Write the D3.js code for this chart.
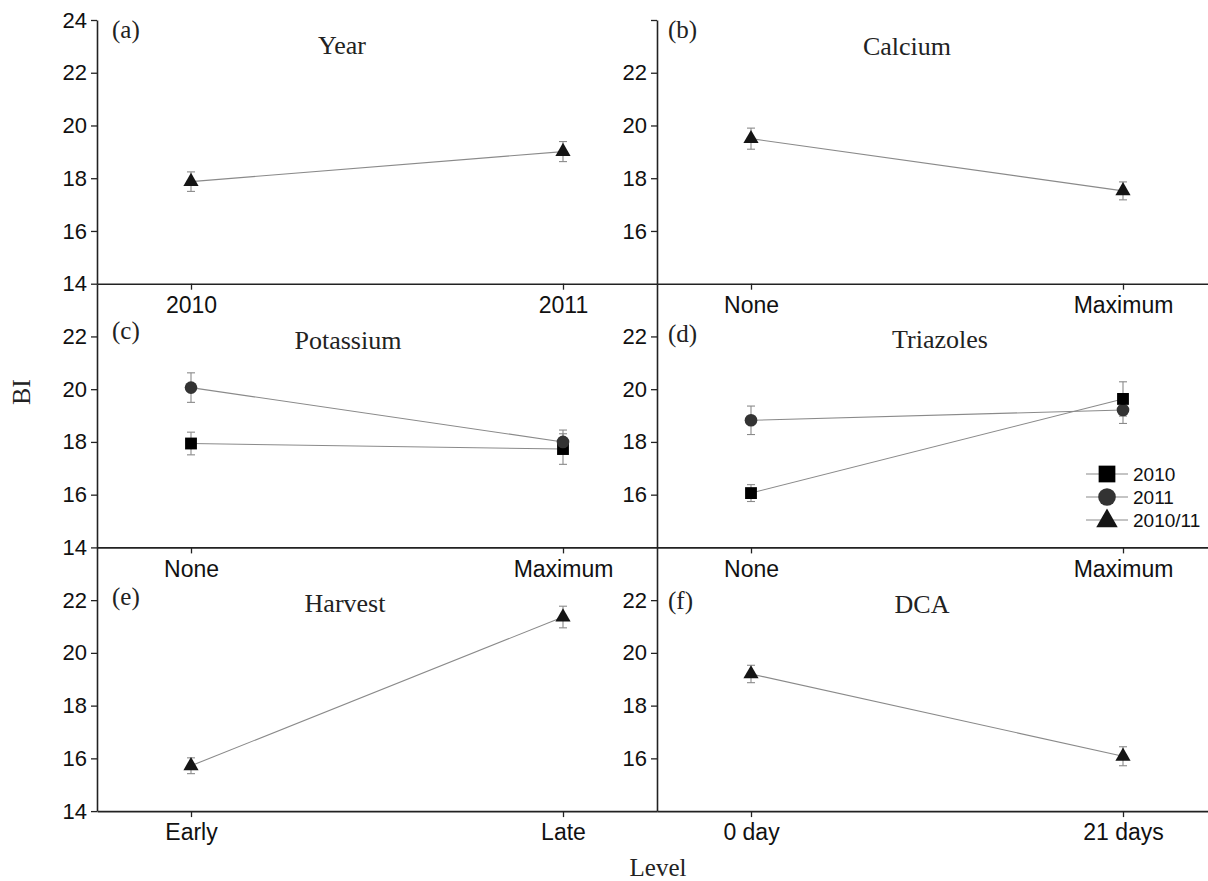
<!DOCTYPE html>
<html><head><meta charset="utf-8">
<script src="https://cdn.jsdelivr.net/npm/d3@7"></script>
<style>body{margin:0;background:#fff}</style>
</head><body><svg id="chart" width="1208" height="881"></svg>
<script>
// ---------- data ----------
const panelTitles = ["Year", "Calcium", "Potassium", "Triazoles", "Harvest", "DCA"];
const panelTags = ["(a)", "(b)", "(c)", "(d)", "(e)", "(f)"];
const levelLabels = [
  ["2010", "2011"],
  ["None", "Maximum"],
  ["None", "Maximum"],
  ["None", "Maximum"],
  ["Early", "Late"],
  ["0 day", "21 days"]
];
const seriesNames = ["2010", "2011", "2010/11"];

const yearMean = [17.87, 19.01],        yearErr = [0.37, 0.38];
const calciumMean = [19.50, 17.52],     calciumErr = [0.40, 0.34];
const potassium2010 = [17.94, 17.73],   potassium2010Err = [0.43, 0.58];
const potassium2011 = [20.06, 18.00],   potassium2011Err = [0.56, 0.45];
const triazoles2010 = [16.06, 19.63],   triazoles2010Err = [0.32, 0.65];
const triazoles2011 = [18.82, 19.21],   triazoles2011Err = [0.54, 0.51];
const harvestMean = [15.72, 21.36],     harvestErr = [0.30, 0.41];
const dcaMean = [19.20, 16.08],         dcaErr = [0.33, 0.36];

const yTicksLeftTop = [14, 16, 18, 20, 22, 24];
const yTicksLeft = [14, 16, 18, 20, 22];
const yTicksRightTop = [16, 18, 20, 22, 24];
const yTicksRight = [16, 18, 20, 22];

// panel -> series list (built from the arrays above)
const panelSeries = [
  [{ s: "2010/11", m: yearMean, e: yearErr }],
  [{ s: "2010/11", m: calciumMean, e: calciumErr }],
  [{ s: "2010", m: potassium2010, e: potassium2010Err }, { s: "2011", m: potassium2011, e: potassium2011Err }],
  [{ s: "2011", m: triazoles2011, e: triazoles2011Err }, { s: "2010", m: triazoles2010, e: triazoles2010Err }],
  [{ s: "2010/11", m: harvestMean, e: harvestErr }],
  [{ s: "2010/11", m: dcaMean, e: dcaErr }]
];

// ---------- layout ----------
const W = 1208, H = 881;
const colLeft = [97, 657], colWidth = 560;
const rowTop = 20, rowH = 263.7;
const sansFont = "'Liberation Sans', Arial, sans-serif";
const serifFont = "'Liberation Serif', 'Times New Roman', serif";
const titlePos = [[342, 54], [907, 55], [348, 349], [940, 348], [345, 612], [922, 613]];
const tagPos = [[112, 38], [668, 38], [112, 339], [668, 342], [112, 605], [668, 609]];

const symbolOf = { "2010": d3.symbolSquare, "2011": d3.symbolCircle, "2010/11": d3.symbolTriangle };
const sizeOf = { "2010": 140, "2011": 125, "2010/11": 100 };
const legendSizeOf = { "2010": 280, "2011": 245, "2010/11": 200 };
const fillOf = { "2010": "#000", "2011": "#333", "2010/11": "#151515" };

const svg = d3.select("#chart");
svg.append("rect").attr("width", W).attr("height", H).attr("fill", "#fff");

function styleAxis(g) {
  g.selectAll(".domain").attr("stroke", "#222").attr("stroke-width", 1.6);
  g.selectAll(".tick line").attr("stroke", "#222").attr("stroke-width", 1.3);
  g.selectAll(".tick text").attr("fill", "#111").attr("font-family", sansFont);
}

const scales = [];
panelTitles.forEach((title, i) => {
  const col = i % 2, row = Math.floor(i / 2);
  const x = d3.scalePoint().domain(levelLabels[i])
    .range([colLeft[col], colLeft[col] + colWidth]).padding(0.2527);
  const y = d3.scaleLinear().domain([14, 24])
    .range([rowTop + (row + 1) * rowH, rowTop + row * rowH]);
  scales.push({ x, y });

  // x axis
  const gx = svg.append("g").attr("transform", `translate(0,${y(14)})`)
    .call(d3.axisBottom(x).tickSize(6).tickSizeOuter(0).tickPadding(7));
  gx.selectAll(".tick text").attr("font-size", 23);
  styleAxis(gx);

  // y axis
  let tv, fmt = d => d;
  if (col === 0) tv = row === 0 ? yTicksLeftTop : yTicksLeft;
  else { tv = row === 0 ? yTicksRightTop : yTicksRight; fmt = d => (d === 24 ? "" : d); }
  const gy = svg.append("g").attr("transform", `translate(${colLeft[col]},0)`)
    .call(d3.axisLeft(y).tickValues(tv).tickFormat(fmt).tickSize(6).tickSizeOuter(0).tickPadding(4));
  gy.selectAll(".tick text").attr("font-size", 22);
  styleAxis(gy);
});

// marks
panelTitles.forEach((title, i) => {
  const { x, y } = scales[i];
  const g = svg.append("g");
  const levels = levelLabels[i];
  panelSeries[i].forEach(ser => {
    const pts = levels.map((lv, k) => ({ lv, m: ser.m[k], e: ser.e[k] }));
    g.append("path").datum(pts)
      .attr("fill", "none").attr("stroke", "#8a8a8a").attr("stroke-width", 1.1)
      .attr("d", d3.line().x(d => x(d.lv)).y(d => y(d.m)));
    const eb = g.append("g").attr("stroke", "#8a8a8a").attr("stroke-width", 1.1);
    pts.forEach(d => {
      const cx = x(d.lv);
      eb.append("line").attr("x1", cx).attr("x2", cx).attr("y1", y(d.m - d.e)).attr("y2", y(d.m + d.e));
      eb.append("line").attr("x1", cx - 4).attr("x2", cx + 4).attr("y1", y(d.m - d.e)).attr("y2", y(d.m - d.e));
      eb.append("line").attr("x1", cx - 4).attr("x2", cx + 4).attr("y1", y(d.m + d.e)).attr("y2", y(d.m + d.e));
    });
  });
  panelSeries[i].forEach(ser => {
    levels.forEach((lv, k) => {
      g.append("path")
        .attr("transform", `translate(${x(lv)},${y(ser.m[k])})`)
        .attr("d", d3.symbol().type(symbolOf[ser.s]).size(sizeOf[ser.s])())
        .attr("fill", fillOf[ser.s]);
    });
  });

  // titles and tags
  svg.append("text").attr("x", titlePos[i][0]).attr("y", titlePos[i][1])
    .attr("text-anchor", "middle").attr("font-family", serifFont).attr("font-size", 26)
    .attr("fill", "#222").text(title);
  svg.append("text").attr("x", tagPos[i][0]).attr("y", tagPos[i][1])
    .attr("font-family", serifFont).attr("font-size", 25)
    .attr("fill", "#222").text(panelTags[i]);
});

// legend (inside panel d)
const legX = 1107, legY0 = 474, legDy = 23;
const leg = svg.append("g");
seriesNames.forEach((s, k) => {
  const yy = legY0 + k * legDy;
  leg.append("line").attr("x1", legX - 21).attr("x2", legX + 21).attr("y1", yy).attr("y2", yy)
    .attr("stroke", "#8a8a8a").attr("stroke-width", 1.1);
  leg.append("path").attr("transform", `translate(${legX},${yy + (s === "2010/11" ? 1 : 0)})`)
    .attr("d", d3.symbol().type(symbolOf[s]).size(legendSizeOf[s])())
    .attr("fill", fillOf[s]);
  leg.append("text").attr("x", legX + 26).attr("y", yy).attr("dy", "0.35em")
    .attr("font-family", sansFont).attr("font-size", 19).attr("fill", "#111").text(s);
});

// axis titles
svg.append("text").attr("transform", "translate(30,392) rotate(-90)")
  .attr("text-anchor", "middle").attr("font-family", serifFont).attr("font-size", 26)
  .attr("fill", "#222").text("BI");
svg.append("text").attr("x", 658).attr("y", 876)
  .attr("text-anchor", "middle").attr("font-family", serifFont).attr("font-size", 25)
  .attr("fill", "#222").text("Level");
</script>
</body></html>
